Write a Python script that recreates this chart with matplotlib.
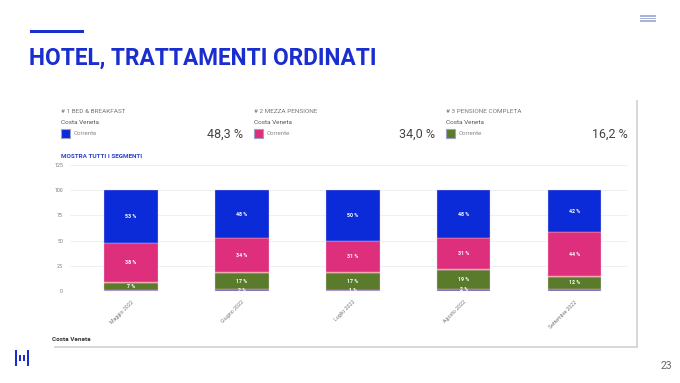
import matplotlib.pyplot as plt
from matplotlib.patches import Rectangle

plt.rcParams['font.family'] = ['Roboto', 'DejaVu Sans']

# dati
mesi = ["Maggio 2022", "Giugno 2022", "Luglio 2022", "Agosto 2022", "Settembre 2022"]
altro = [1.0, 1.6, 1.0, 2.0, 2.2]
pensione_completa = [7.2, 16.6, 16.6, 18.8, 11.6]
solo_pernottamento = [0.8, 0.6, 0.8, 0.8, 0.8]
mezza_pensione = [38.2, 33.6, 31.2, 30.6, 43.6]
bed_breakfast = [52.8, 47.6, 50.4, 47.8, 41.8]
mostra_altro = [False, True, True, True, False]

gruppi = ["# 1 BED & BREAKFAST", "# 2 MEZZA PENSIONE", "# 3 PENSIONE COMPLETA"]
quote = ["48,3 %", "34,0 %", "16,2 %"]

BLU = "#0b2bd8"
ROSA = "#dd2f7b"
VERDE = "#5a7b2b"
VIOLA = "#7d5bc0"
SALMONE = "#ee8f8a"
TITOLO = "#1a2ed0"

W, H = 680, 383
fig = plt.figure(figsize=(W / 100, H / 100), dpi=100)


def px(x, y):
    return x / W, 1 - y / H


# intestazione
fig.patches.append(Rectangle(px(30, 33), 54 / W, 3 / H, transform=fig.transFigure,
                             color=TITOLO, lw=0))
fig.text(*px(29, 65), "HOTEL, TRATTAMENTI ORDINATI", fontsize=16.3, fontweight="bold",
         color=TITOLO, va="baseline", ha="left")
for yy in (16.5, 19, 21.5):
    fig.patches.append(Rectangle(px(640, yy), 16 / W, 1 / H, transform=fig.transFigure,
                                 color="#a9b3d9", lw=0))

# scheda con ombra
fig.patches.append(Rectangle(px(54, 348), 584 / W, 248 / H, transform=fig.transFigure,
                             color="#d8d8d8", lw=0))
fig.patches.append(Rectangle(px(52, 346), 584 / W, 248 / H, transform=fig.transFigure,
                             color="white", lw=0))

colori = [BLU, ROSA, VERDE]
for i, (g, q) in enumerate(zip(gruppi, quote)):
    x0 = 61 + i * 192.5
    fig.text(*px(x0, 113), g, fontsize=4.6, color="#777777", va="baseline")
    fig.text(*px(x0, 124), "Costa Veneta", fontsize=4.6, color="#555555", va="baseline")
    fig.patches.append(Rectangle(px(x0, 138), 9 / W, 9 / H, transform=fig.transFigure,
                                 facecolor=colori[i], edgecolor="#9aa0c8", lw=0.8))
    fig.text(*px(x0 + 13, 135.5), "Corrente", fontsize=4.4, color="#888888", va="baseline")
    fig.text(*px(x0 + 182, 138), q, fontsize=9, color="#444444", va="baseline", ha="right")

fig.text(*px(61, 158), "MOSTRA TUTTI I SEGMENTI", fontsize=4.6, fontweight="bold",
         color="#2a3fd0", va="baseline")
fig.text(*px(52, 341), "Costa Veneta", fontsize=4.6, fontweight="bold", color="#333333",
         va="baseline")

# grafico a barre impilate
ax = fig.add_axes([70 / W, 92 / H, 558 / W, 126 / H])
ax.set_zorder(3)
ax.patch.set_alpha(0)
x = list(range(len(mesi)))
serie = [
    (altro, VIOLA),
    (pensione_completa, VERDE),
    (solo_pernottamento, SALMONE),
    (mezza_pensione, ROSA),
    (bed_breakfast, BLU),
]
base = [0.0] * len(mesi)
for k, (vals, col) in enumerate(serie):
    bars = ax.bar(x, vals, bottom=base, width=0.48, color=col, edgecolor="#f0d0e0",
                  linewidth=0.25, zorder=3)
    for j, b in enumerate(bars):
        v = vals[j]
        show = v >= 3 or (col == VIOLA and mostra_altro[j])
        if show and col != SALMONE:
            ax.text(b.get_x() + b.get_width() / 2, base[j] + v / 2, "%.0f %%" % v,
                    ha="center", va="center", fontsize=3.8, fontweight="bold",
                    color="white", zorder=4)
    base = [b0 + v for b0, v in zip(base, vals)]

ax.set_xlim(-0.55, 4.48)
ax.set_ylim(0, 125)
ax.set_yticks([0, 25, 50, 75, 100, 125])
ax.yaxis.grid(True, color="#ececf2", linewidth=0.6, zorder=0)
ax.set_axisbelow(True)
ax.set_xticks(x)
ax.set_xticklabels(mesi, rotation=45, ha="right", rotation_mode="anchor")
ax.tick_params(axis="both", length=0, labelsize=3.8, labelcolor="#777777")
ax.tick_params(axis="y", pad=5)
ax.tick_params(axis="x", pad=6)
for s in ax.spines.values():
    s.set_visible(False)

# logo e numero pagina
for xx, yy, hh in [(15, 350, 16), (19, 355, 6), (23, 355, 6), (27, 350, 16)]:
    fig.patches.append(Rectangle(px(xx, yy + hh), 2 / W, hh / H, transform=fig.transFigure,
                                 color=TITOLO, lw=0))
fig.text(*px(672, 369), "23", fontsize=7.5, color="#666666", ha="right", va="baseline")

fig.savefig("out.png", dpi=100)
